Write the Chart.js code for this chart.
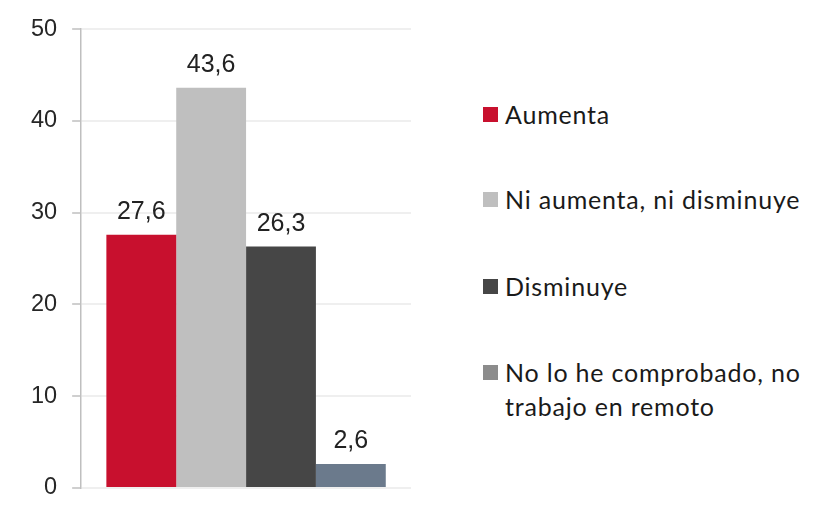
<!DOCTYPE html>
<html>
<head>
<meta charset="utf-8">
<script src="https://cdn.jsdelivr.net/npm/chart.js@4/dist/chart.umd.min.js"></script>
<style>
  body { margin: 0; background: #fff; }
  #wrap { position: relative; width: 815px; height: 517px; }
  #chart-box { position: absolute; left: 0; top: 0; width: 430px; height: 517px; }
  #legend { position: absolute; left: 483px; top: 0; font-family: Lato, "Open Sans", sans-serif; font-size: 25px; letter-spacing: 0.8px; color: #1a1a1a; }
  .item { position: absolute; left: 0; display: flex; align-items: flex-start; white-space: nowrap; line-height: 34px; }
  .box { width: 15px; height: 15px; margin-top: 10px; margin-right: 7px; flex: none; }
</style>
</head>
<body>
<div id="wrap">
  <div id="chart-box"><canvas id="chart-area"></canvas></div>
  <div id="legend"></div>
</div>
<script>
/* Bar chart: 4 series, single group */

const series = [
  "Aumenta",
  "Ni aumenta, ni disminuye",
  "Disminuye",
  ["No lo he comprobado, no", "trabajo en remoto"],
];
const values = [27.6, 43.6, 26.3, 2.6];
const yTicks = [0, 10, 20, 30, 40, 50];

const barColors = ["#c8102e", "#bfbfbf", "#464646", "#6b7a8c"];
const legendColors = ["#c8102e", "#bfbfbf", "#464646", "#8c8c8c"];
const legendTops = [97, 182, 269, 355];

const fmt = (v) => v.toFixed(1).replace(".", ",");

// value labels above each bar
const valueLabels = {
  id: "valueLabels",
  afterDatasetsDraw(chart) {
    const ctx = chart.ctx;
    ctx.save();
    ctx.font = '25px "Liberation Sans", Arial, sans-serif';
    ctx.fillStyle = "#222";
    ctx.textAlign = "center";
    ctx.textBaseline = "alphabetic";
    chart.data.datasets.forEach((ds, i) => {
      const bar = chart.getDatasetMeta(i).data[0];
      ctx.fillText(fmt(ds.data[0]), bar.x, bar.y - 16);
    });
    ctx.restore();
  },
};

let config = {
  type: "bar",
  data: {
    labels: [""],
    datasets: series.map((s, i) => ({
      label: s,
      data: [values[i]],
      backgroundColor: barColors[i],
      borderWidth: 0,
    })),
  },
  options: {
    responsive: true,
    maintainAspectRatio: false,
    animation: false,
    layout: { padding: { left: 16, right: 19, top: 27, bottom: 25 } },
    datasets: {
      bar: { barPercentage: 1, categoryPercentage: 0.847 },
    },
    plugins: {
      legend: { display: false },
      tooltip: { enabled: false },
    },
    scales: {
      x: {
        display: false,
      },
      y: {
        min: yTicks[0],
        max: yTicks[yTicks.length - 1],
        afterBuildTicks: (axis) => {
          axis.ticks = yTicks.map((v) => ({ value: v }));
        },
        border: { display: true, color: "#bfbfbf", width: 1.5 },
        grid: {
          color: "#efefef",
          lineWidth: 2,
          tickColor: "#bfbfbf",
          tickLength: 9,
          tickWidth: 1.5,
        },
        ticks: {
          padding: 15,
          color: "#262626",
          font: { family: '"Liberation Sans", Arial, sans-serif', size: 23.5 },
        },
      },
    },
  },
  plugins: [valueLabels],
};

// legend built from the same arrays
const legend = document.getElementById("legend");
series.forEach((s, i) => {
  const item = document.createElement("div");
  item.className = "item";
  item.style.top = legendTops[i] + "px";
  const box = document.createElement("span");
  box.className = "box";
  box.style.background = legendColors[i];
  const txt = document.createElement("span");
  txt.innerHTML = [].concat(s).join("<br>");
  item.appendChild(box);
  item.appendChild(txt);
  legend.appendChild(item);
});

window.onload = function () {
  let ctx = document.getElementById("chart-area").getContext("2d");
  window.myBar = new Chart(ctx, config);
};
</script>
</body>
</html>
